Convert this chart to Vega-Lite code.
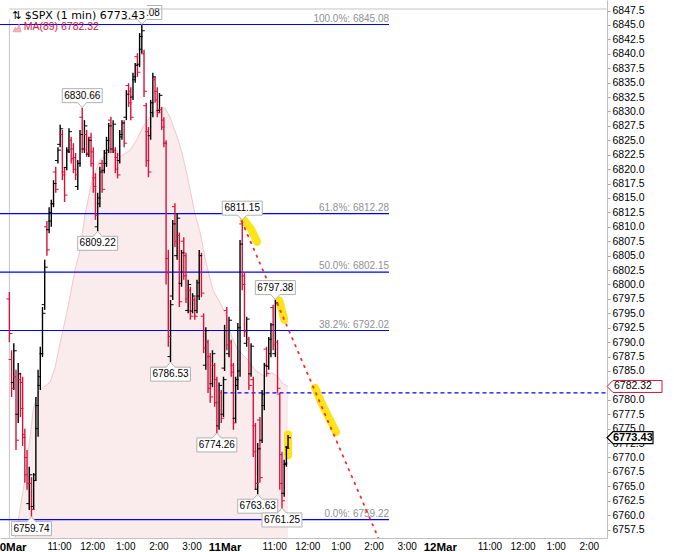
{
  "$schema": "https://vega.github.io/schema/vega-lite/v6.json",
  "width": 607,
  "height": 538,
  "autosize": {"type": "none"},
  "padding": {"left": 0, "top": 0, "right": 67, "bottom": 14},
  "background": "white",
  "config": {"view": {"stroke": null}, "font": "Liberation Sans", "axis": {"grid": false, "labelOverlap": false, "labelBound": false}},
  "title": {
    "text": "\u21c5 $SPX (1 min) 6773.43",
    "subtitle": "\u200b\u00a0\u00a0\u00a0\u00a0MA(89) 6782.32",
    "anchor": "start",
    "frame": "group",
    "orient": "top",
    "offset": -32,
    "dx": 12,
    "font": "DejaVu Sans",
    "fontSize": 11,
    "fontWeight": "normal",
    "color": "#000000",
    "subtitleFont": "Liberation Sans",
    "subtitleFontSize": 10.5,
    "subtitleColor": "#d4143c",
    "subtitlePadding": 1
  },
  "datasets": {
    "bars": [
      {"t":0,"o":6797.5,"h":6798.7,"l":6790.0,"c":6791.5},
      {"t":4,"o":6787.0,"h":6788.6,"l":6780.5,"c":6782.0},
      {"t":8,"o":6783.0,"h":6789.8,"l":6781.7,"c":6788.5},
      {"t":12,"o":6784.0,"h":6785.2,"l":6771.3,"c":6773.0},
      {"t":16,"o":6777.5,"h":6786.4,"l":6776.0,"c":6784.5},
      {"t":20,"o":6783.5,"h":6784.7,"l":6777.0,"c":6778.5},
      {"t":24,"o":6783.0,"h":6784.0,"l":6772.0,"c":6773.5},
      {"t":28,"o":6774.0,"h":6775.0,"l":6765.6,"c":6767.0},
      {"t":32,"o":6770.0,"h":6771.3,"l":6764.4,"c":6765.5},
      {"t":36,"o":6762.0,"h":6768.4,"l":6760.9,"c":6767.0},
      {"t":40,"o":6765.5,"h":6766.6,"l":6759.74,"c":6761.0},
      {"t":44,"o":6761.5,"h":6767.3,"l":6760.9,"c":6766.0},
      {"t":48,"o":6767.0,"h":6780.5,"l":6766.1,"c":6779.0},
      {"t":52,"o":6775.0,"h":6785.2,"l":6773.6,"c":6784.0},
      {"t":56,"o":6782.5,"h":6789.2,"l":6781.7,"c":6788.0},
      {"t":60,"o":6788.0,"h":6796.1,"l":6787.4,"c":6795.0},
      {"t":64,"o":6796.5,"h":6804.3,"l":6795.6,"c":6803.0},
      {"t":68,"o":6810.0,"h":6811.0,"l":6805.0,"c":6806.0},
      {"t":72,"o":6809.5,"h":6813.4,"l":6808.9,"c":6812.5},
      {"t":76,"o":6811.0,"h":6814.7,"l":6810.0,"c":6814.0},
      {"t":80,"o":6814.0,"h":6818.1,"l":6813.4,"c":6817.5},
      {"t":84,"o":6819.5,"h":6820.4,"l":6815.9,"c":6816.5},
      {"t":88,"o":6821.5,"h":6823.8,"l":6821.0,"c":6823.3},
      {"t":92,"o":6824.3,"h":6827.7,"l":6823.8,"c":6827.0},
      {"t":96,"o":6826.0,"h":6826.8,"l":6818.1,"c":6819.0},
      {"t":100,"o":6819.5,"h":6820.4,"l":6814.3,"c":6815.5},
      {"t":104,"o":6820.3,"h":6823.8,"l":6819.8,"c":6823.0},
      {"t":108,"o":6823.3,"h":6827.1,"l":6822.8,"c":6826.5},
      {"t":112,"o":6825.0,"h":6825.6,"l":6821.0,"c":6821.8},
      {"t":116,"o":6823.5,"h":6824.5,"l":6819.3,"c":6820.0},
      {"t":120,"o":6822.0,"h":6822.8,"l":6818.1,"c":6819.0},
      {"t":124,"o":6817.0,"h":6821.6,"l":6816.4,"c":6821.0},
      {"t":128,"o":6821.0,"h":6826.8,"l":6820.4,"c":6826.0},
      {"t":132,"o":6829.0,"h":6830.66,"l":6822.8,"c":6823.5},
      {"t":136,"o":6823.5,"h":6828.5,"l":6822.8,"c":6827.5},
      {"t":140,"o":6826.0,"h":6826.8,"l":6822.1,"c":6822.8},
      {"t":144,"o":6822.6,"h":6825.6,"l":6822.1,"c":6825.0},
      {"t":148,"o":6825.5,"h":6826.3,"l":6820.4,"c":6821.0},
      {"t":152,"o":6823.0,"h":6823.8,"l":6815.9,"c":6817.0},
      {"t":156,"o":6818.5,"h":6819.3,"l":6811.2,"c":6812.0},
      {"t":160,"o":6810.0,"h":6815.9,"l":6809.22,"c":6815.0},
      {"t":164,"o":6814.0,"h":6820.4,"l":6813.4,"c":6819.5},
      {"t":168,"o":6821.0,"h":6821.6,"l":6815.9,"c":6816.5},
      {"t":172,"o":6819.8,"h":6823.3,"l":6819.3,"c":6822.8},
      {"t":176,"o":6821.0,"h":6825.6,"l":6820.4,"c":6825.0},
      {"t":180,"o":6823.3,"h":6828.0,"l":6822.8,"c":6827.5},
      {"t":184,"o":6828.5,"h":6829.1,"l":6822.8,"c":6823.5},
      {"t":188,"o":6823.5,"h":6828.5,"l":6822.8,"c":6827.8},
      {"t":192,"o":6823.3,"h":6823.8,"l":6819.3,"c":6820.0},
      {"t":196,"o":6822.0,"h":6822.8,"l":6818.4,"c":6819.0},
      {"t":200,"o":6821.5,"h":6826.8,"l":6821.0,"c":6826.0},
      {"t":204,"o":6825.6,"h":6828.5,"l":6825.1,"c":6828.0},
      {"t":208,"o":6828.0,"h":6828.5,"l":6823.8,"c":6824.5},
      {"t":212,"o":6829.0,"h":6833.7,"l":6828.5,"c":6833.0},
      {"t":216,"o":6834.5,"h":6834.9,"l":6830.8,"c":6831.5},
      {"t":220,"o":6833.5,"h":6834.2,"l":6828.5,"c":6829.0},
      {"t":224,"o":6832.5,"h":6836.7,"l":6832.0,"c":6836.0},
      {"t":228,"o":6835.5,"h":6838.4,"l":6835.0,"c":6838.0},
      {"t":232,"o":6839.5,"h":6840.1,"l":6836.0,"c":6836.8},
      {"t":236,"o":6838.2,"h":6843.6,"l":6837.7,"c":6843.0},
      {"t":240,"o":6840.8,"h":6845.08,"l":6840.1,"c":6844.0},
      {"t":244,"o":6840.0,"h":6840.7,"l":6832.5,"c":6833.5},
      {"t":248,"o":6831.0,"h":6831.5,"l":6820.4,"c":6821.5},
      {"t":252,"o":6826.5,"h":6827.3,"l":6818.6,"c":6819.5},
      {"t":256,"o":6825.8,"h":6832.0,"l":6825.1,"c":6831.5},
      {"t":260,"o":6829.8,"h":6836.7,"l":6829.0,"c":6836.0},
      {"t":264,"o":6835.5,"h":6836.0,"l":6831.5,"c":6832.0},
      {"t":268,"o":6833.5,"h":6834.2,"l":6829.0,"c":6829.8},
      {"t":272,"o":6830.2,"h":6833.2,"l":6829.7,"c":6832.8},
      {"t":276,"o":6830.3,"h":6830.8,"l":6826.8,"c":6827.3},
      {"t":280,"o":6828.5,"h":6829.0,"l":6823.8,"c":6824.5},
      {"t":284,"o":6824.5,"h":6825.0,"l":6800.0,"c":6802.0},
      {"t":288,"o":6804.5,"h":6806.0,"l":6789.2,"c":6791.0},
      {"t":292,"o":6787.5,"h":6797.3,"l":6786.53,"c":6796.5},
      {"t":296,"o":6798.0,"h":6811.2,"l":6797.3,"c":6810.5},
      {"t":300,"o":6813.5,"h":6814.1,"l":6806.5,"c":6807.5},
      {"t":304,"o":6805.0,"h":6812.4,"l":6804.3,"c":6811.5},
      {"t":308,"o":6808.5,"h":6809.0,"l":6796.1,"c":6797.0},
      {"t":312,"o":6800.2,"h":6806.0,"l":6799.6,"c":6805.5},
      {"t":316,"o":6807.5,"h":6808.2,"l":6800.8,"c":6801.5},
      {"t":320,"o":6805.0,"h":6805.5,"l":6796.8,"c":6797.5},
      {"t":324,"o":6795.5,"h":6800.8,"l":6795.0,"c":6800.0},
      {"t":328,"o":6799.0,"h":6799.6,"l":6793.9,"c":6794.5},
      {"t":332,"o":6795.4,"h":6798.5,"l":6795.0,"c":6798.0},
      {"t":336,"o":6797.3,"h":6797.8,"l":6793.9,"c":6794.5},
      {"t":340,"o":6795.5,"h":6800.8,"l":6795.0,"c":6800.3},
      {"t":344,"o":6798.0,"h":6806.0,"l":6797.3,"c":6805.0},
      {"t":348,"o":6805.0,"h":6805.5,"l":6797.8,"c":6798.5},
      {"t":352,"o":6794.5,"h":6795.0,"l":6788.1,"c":6789.0},
      {"t":356,"o":6786.0,"h":6792.6,"l":6785.2,"c":6792.0},
      {"t":360,"o":6790.0,"h":6790.4,"l":6781.2,"c":6782.0},
      {"t":364,"o":6787.5,"h":6788.1,"l":6779.5,"c":6780.5},
      {"t":368,"o":6782.8,"h":6788.6,"l":6782.2,"c":6788.0},
      {"t":372,"o":6786.0,"h":6786.4,"l":6778.8,"c":6779.5},
      {"t":376,"o":6783.5,"h":6784.0,"l":6774.26,"c":6775.5},
      {"t":380,"o":6775.5,"h":6783.0,"l":6774.8,"c":6782.5},
      {"t":384,"o":6781.2,"h":6781.7,"l":6776.0,"c":6776.8},
      {"t":388,"o":6777.5,"h":6784.0,"l":6777.0,"c":6783.5},
      {"t":390,"o":6785.5,"h":6793.0,"l":6785.0,"c":6792.0},
      {"t":394,"o":6795.5,"h":6796.1,"l":6788.6,"c":6789.5},
      {"t":398,"o":6788.0,"h":6794.4,"l":6787.4,"c":6793.8},
      {"t":402,"o":6790.0,"h":6790.4,"l":6784.0,"c":6784.8},
      {"t":406,"o":6786.0,"h":6786.4,"l":6774.8,"c":6776.0},
      {"t":410,"o":6776.8,"h":6784.0,"l":6776.0,"c":6783.5},
      {"t":414,"o":6782.5,"h":6793.3,"l":6781.7,"c":6792.5},
      {"t":418,"o":6785.0,"h":6807.7,"l":6784.0,"c":6807.0},
      {"t":422,"o":6810.5,"h":6811.15,"l":6799.0,"c":6800.0},
      {"t":426,"o":6801.5,"h":6802.0,"l":6790.9,"c":6791.8},
      {"t":430,"o":6789.8,"h":6794.4,"l":6789.2,"c":6794.0},
      {"t":434,"o":6790.5,"h":6790.9,"l":6781.7,"c":6782.5},
      {"t":438,"o":6784.5,"h":6789.8,"l":6784.0,"c":6789.3},
      {"t":442,"o":6783.5,"h":6784.0,"l":6770.1,"c":6771.0},
      {"t":446,"o":6775.5,"h":6776.0,"l":6764.4,"c":6765.5},
      {"t":450,"o":6764.5,"h":6772.5,"l":6763.63,"c":6771.5},
      {"t":454,"o":6776.5,"h":6777.0,"l":6765.6,"c":6766.5},
      {"t":458,"o":6773.0,"h":6781.7,"l":6772.5,"c":6781.0},
      {"t":462,"o":6779.0,"h":6786.4,"l":6778.2,"c":6786.0},
      {"t":466,"o":6788.8,"h":6789.2,"l":6784.0,"c":6784.6},
      {"t":470,"o":6785.8,"h":6790.9,"l":6785.2,"c":6790.5},
      {"t":474,"o":6788.0,"h":6793.3,"l":6787.4,"c":6793.0},
      {"t":478,"o":6796.0,"h":6796.5,"l":6788.6,"c":6789.5},
      {"t":482,"o":6788.0,"h":6797.38,"l":6787.4,"c":6796.8},
      {"t":486,"o":6790.0,"h":6790.4,"l":6781.2,"c":6782.0},
      {"t":490,"o":6781.0,"h":6781.2,"l":6764.4,"c":6765.5},
      {"t":494,"o":6770.5,"h":6771.0,"l":6761.25,"c":6762.5},
      {"t":498,"o":6763.8,"h":6769.6,"l":6763.2,"c":6769.0},
      {"t":502,"o":6768.8,"h":6772.0,"l":6768.4,"c":6771.6},
      {"t":505,"o":6771.8,"h":6773.9,"l":6771.6,"c":6773.43}
    ],
    "ma": [
      {"t":10,"ma":6755.7},{"t":28,"ma":6766.1},{"t":37,"ma":6773.0},{"t":43,"ma":6778.2},
      {"t":52,"ma":6781.2},{"t":62,"ma":6782.2},{"t":74,"ma":6783.1},{"t":83,"ma":6785.7},
      {"t":92,"ma":6789.9},{"t":104,"ma":6795.1},{"t":119,"ma":6802.5},{"t":128,"ma":6806.0},
      {"t":137,"ma":6812.1},{"t":150,"ma":6818.1},{"t":164,"ma":6821.6},{"t":182,"ma":6822.8},
      {"t":195,"ma":6823.3},{"t":200,"ma":6822.1},{"t":219,"ma":6823.3},{"t":231,"ma":6825.1},
      {"t":242,"ma":6827.3},{"t":251,"ma":6828.5},{"t":260,"ma":6829.7},{"t":273,"ma":6830.6},
      {"t":282,"ma":6830.6},{"t":291,"ma":6829.0},{"t":304,"ma":6825.6},{"t":313,"ma":6822.8},
      {"t":324,"ma":6818.1},{"t":336,"ma":6812.4},{"t":346,"ma":6808.9},{"t":356,"ma":6803.9},
      {"t":369,"ma":6799.0},{"t":382,"ma":6796.8},{"t":391,"ma":6795.1},{"t":403,"ma":6790.9},
      {"t":414,"ma":6788.7},{"t":423,"ma":6787.8},{"t":432,"ma":6786.9},{"t":445,"ma":6785.2},
      {"t":463,"ma":6784.0},{"t":476,"ma":6784.7},{"t":487,"ma":6784.0},{"t":494,"ma":6782.9},
      {"t":505,"ma":6782.32}
    ],
    "fib": [
      {"label":"100.0%: 6845.08","p":6845.08},
      {"label":"61.8%: 6812.28","p":6812.28},
      {"label":"50.0%: 6802.15","p":6802.15},
      {"label":"38.2%: 6792.02","p":6792.02},
      {"label":"0.0%: 6759.22","p":6759.22}
    ],
    "hi": [
      {"t":132,"p":6830.66},{"t":240,"p":6845.08},{"t":422,"p":6811.15},{"t":482,"p":6797.38}
    ],
    "lo": [
      {"t":40,"p":6759.74},{"t":160,"p":6809.22},{"t":292,"p":6786.53},
      {"t":376,"p":6774.26},{"t":450,"p":6763.63},{"t":494,"p":6761.25}
    ],
    "hl": [
      {"id":1,"k":0,"t":425,"p":6811.2},{"id":1,"k":1,"t":438,"p":6809.6},{"id":1,"k":2,"t":449,"p":6807.4},
      {"id":2,"k":0,"t":489,"p":6797.2},{"id":2,"k":1,"t":494,"p":6795.5},{"id":2,"k":2,"t":498,"p":6793.9},
      {"id":3,"k":0,"t":554,"p":6782.1},{"id":3,"k":1,"t":565,"p":6779.6},{"id":3,"k":2,"t":579,"p":6776.9},{"id":3,"k":3,"t":592,"p":6774.4},
      {"id":4,"k":0,"t":505,"p":6774.0},{"id":4,"k":1,"t":505,"p":6770.4}
    ],
    "trend": [{"t":421,"p":6811.0},{"t":681,"p":6753.3}]
  },
  "layer": [
    {
      "data": {"name": "ma"},
      "mark": {"type": "area", "color": "#f8e3e4", "clip": true, "line": {"color": "#f0c8cc", "strokeWidth": 1}},
      "encoding": {
        "x": {
          "field": "t", "type": "quantitative", "title": null,
          "scale": {"domain": [-17, 1083], "nice": false, "zero": false},
          "axis": {
            "orient": "bottom",
            "values": [0,90,150,210,270,330,390,480,540,600,660,720,780,870,930,990,1050],
            "tickCount": 100,
            "labelExpr": "datum.value == 0 ? '10Mar' : datum.value == 390 ? '11Mar' : datum.value == 780 ? '12Mar' : ['11:00','12:00','1:00','2:00','3:00'][(datum.value % 390 - 90) / 60]",
            "labelFontWeight": {"condition": {"test": "datum.value % 390 == 0", "value": "bold"}, "value": "normal"},
            "labelFontSize": {"condition": {"test": "datum.value % 390 == 0", "value": 11.5}, "value": 10},
            "labelColor": "#000000",
            "labelPadding": 3,
            "labelFlush": false,
            "labelOverlap": false,
            "labelBound": false,
            "ticks": false,
            "domainColor": "#c0c0c0"
          }
        },
        "y": {
          "field": "ma", "type": "quantitative", "title": null,
          "scale": {"domain": [6756.04, 6849.33], "nice": false, "zero": false},
          "axis": {
            "orient": "right",
            "values": [6757.5,6760,6762.5,6765,6767.5,6770,6772.5,6775,6777.5,6780,6782.5,6785,6787.5,6790,6792.5,6795,6797.5,6800,6802.5,6805,6807.5,6810,6812.5,6815,6817.5,6820,6822.5,6825,6827.5,6830,6832.5,6835,6837.5,6840,6842.5,6845,6847.5],
            "tickCount": 100,
            "format": ".1f",
            "labelFontSize": 10.5,
            "labelColor": "#000000",
            "labelPadding": 2,
            "tickSize": 3,
            "tickColor": "#a0a0a0",
            "domainColor": "#c0c0c0",
            "labelOverlap": false,
            "labelBound": false,
            "labelFlush": false
          }
        }
      }
    },
    {
      "data": {"values": [{}]},
      "mark": {"type": "rule", "color": "#c4c4c4", "strokeWidth": 1},
      "encoding": {
        "x": {"datum": 0},
        "y": {"datum": 6847.77},
        "y2": {"datum": 6756.04}
      }
    },
    {
      "data": {"name": "fib"},
      "mark": {"type": "rule", "color": "#0000ff", "strokeWidth": 1.2},
      "encoding": {
        "x": {"datum": -17},
        "x2": {"datum": 688},
        "y": {"field": "p", "type": "quantitative", "title": null}
      }
    },
    {
      "data": {"name": "fib"},
      "mark": {"type": "text", "align": "right", "baseline": "bottom", "dy": -1, "color": "#909090", "fontSize": 10},
      "encoding": {
        "x": {"datum": 688},
        "y": {"field": "p", "type": "quantitative", "title": null},
        "text": {"field": "label"}
      }
    },
    {
      "data": {"values": [{}]},
      "mark": {"type": "rule", "color": "#0000ff", "strokeWidth": 1.2, "strokeDash": [4, 3]},
      "encoding": {
        "x": {"datum": 388},
        "x2": {"datum": 1083},
        "y": {"datum": 6781.2}
      }
    },
    {
      "data": {"name": "hl"},
      "mark": {"type": "line", "color": "#ffe000", "strokeWidth": 8, "strokeCap": "round", "strokeJoin": "round", "opacity": 0.9, "clip": true},
      "encoding": {
        "x": {"field": "t", "type": "quantitative", "title": null},
        "y": {"field": "p", "type": "quantitative", "title": null},
        "detail": {"field": "id"},
        "order": {"field": "k"}
      }
    },
    {
      "data": {"name": "bars"},
      "mark": {"type": "rule", "strokeWidth": 1.4, "clip": true},
      "encoding": {
        "x": {"field": "t", "type": "quantitative", "title": null},
        "y": {"field": "h", "type": "quantitative", "title": null},
        "y2": {"field": "l"},
        "color": {"condition": {"test": "datum.c < datum.o", "value": "#d4143c"}, "value": "#000000"}
      }
    },
    {
      "data": {"name": "bars"},
      "mark": {"type": "tick", "orient": "horizontal", "size": 3, "thickness": 1, "xOffset": -1.5, "opacity": 1, "clip": true},
      "encoding": {
        "x": {"field": "t", "type": "quantitative", "title": null},
        "y": {"field": "o", "type": "quantitative", "title": null},
        "color": {"condition": {"test": "datum.c < datum.o", "value": "#d4143c"}, "value": "#000000"}
      }
    },
    {
      "data": {"name": "bars"},
      "mark": {"type": "tick", "orient": "horizontal", "size": 3, "thickness": 1, "xOffset": 1.5, "opacity": 1, "clip": true},
      "encoding": {
        "x": {"field": "t", "type": "quantitative", "title": null},
        "y": {"field": "c", "type": "quantitative", "title": null},
        "color": {"condition": {"test": "datum.c < datum.o", "value": "#d4143c"}, "value": "#000000"}
      }
    },
    {
      "data": {"name": "trend"},
      "mark": {"type": "line", "color": "#ff2a2a", "strokeWidth": 1.8, "strokeDash": [1.5, 6], "strokeCap": "round", "clip": true},
      "encoding": {
        "x": {"field": "t", "type": "quantitative", "title": null},
        "y": {"field": "p", "type": "quantitative", "title": null}
      }
    },
    {
      "data": {"name": "hi"},
      "mark": {"type": "point", "shape": "M-1,-0.95L1,-0.95L1,-0.25L0.22,-0.25L0,0L-0.22,-0.25L-1,-0.25Z", "size": 1600, "filled": true, "fill": "#ffffff", "stroke": "#b0b0b0", "strokeWidth": 1, "opacity": 1},
      "encoding": {
        "x": {"field": "t", "type": "quantitative", "title": null},
        "y": {"field": "p", "type": "quantitative", "title": null}
      }
    },
    {
      "data": {"name": "hi"},
      "mark": {"type": "text", "dy": -12, "baseline": "middle", "fontSize": 10, "color": "#000000"},
      "encoding": {
        "x": {"field": "t", "type": "quantitative", "title": null},
        "y": {"field": "p", "type": "quantitative", "title": null},
        "text": {"field": "p", "format": ".2f"}
      }
    },
    {
      "data": {"name": "lo"},
      "mark": {"type": "point", "shape": "M-1,0.95L1,0.95L1,0.25L0.22,0.25L0,0L-0.22,0.25L-1,0.25Z", "size": 1600, "filled": true, "fill": "#ffffff", "stroke": "#b0b0b0", "strokeWidth": 1, "opacity": 1},
      "encoding": {
        "x": {"field": "t", "type": "quantitative", "title": null},
        "y": {"field": "p", "type": "quantitative", "title": null}
      }
    },
    {
      "data": {"name": "lo"},
      "mark": {"type": "text", "dy": 12, "baseline": "middle", "fontSize": 10, "color": "#000000"},
      "encoding": {
        "x": {"field": "t", "type": "quantitative", "title": null},
        "y": {"field": "p", "type": "quantitative", "title": null},
        "text": {"field": "p", "format": ".2f"}
      }
    },
    {
      "data": {"values": [{}]},
      "mark": {"type": "rect", "color": "#ffffff"},
      "encoding": {
        "x": {"datum": -17},
        "x2": {"datum": 249},
        "y": {"datum": 6849.33},
        "y2": {"datum": 6846.0}
      }
    },
    {
      "data": {"values": [{}]},
      "mark": {"type": "rule", "color": "#c4c4c4", "strokeWidth": 1},
      "encoding": {
        "x": {"datum": 0},
        "x2": {"datum": 1083},
        "y": {"datum": 6847.77}
      }
    },
    {
      "data": {"values": [{}]},
      "mark": {"type": "point", "shape": "M-1,1L-0.45,-0.2L0,0.35L0.5,-1L1,1Z", "size": 64, "filled": true, "fill": "#f2b4bc", "stroke": "#e07f8f", "strokeWidth": 0.5, "opacity": 1},
      "encoding": {
        "x": {"datum": 14},
        "y": {"datum": 6844.5}
      }
    },
    {
      "data": {"values": [{"p": 6782.32}]},
      "mark": {"type": "point", "shape": "M0,0L0.3,-0.3L2.75,-0.3L2.75,0.3L0.3,0.3Z", "size": 1600, "filled": true, "fill": "#ffffff", "stroke": "#d4143c", "strokeWidth": 1, "opacity": 1, "clip": false},
      "encoding": {
        "x": {"datum": 1083},
        "y": {"field": "p", "type": "quantitative", "title": null}
      }
    },
    {
      "data": {"values": [{"p": 6782.32}]},
      "mark": {"type": "text", "align": "left", "baseline": "middle", "dx": 7, "fontSize": 10.5, "color": "#000000"},
      "encoding": {
        "x": {"datum": 1083},
        "y": {"field": "p", "type": "quantitative", "title": null},
        "text": {"field": "p", "format": ".2f"}
      }
    },
    {
      "data": {"values": [{"p": 6773.43}]},
      "mark": {"type": "point", "shape": "M0,0L0.3,-0.3L2.3,-0.3L2.3,0.3L0.3,0.3Z", "size": 1600, "filled": true, "fill": "#ffffff", "stroke": "#000000", "strokeWidth": 1.2, "opacity": 1, "clip": false},
      "encoding": {
        "x": {"datum": 1083},
        "y": {"field": "p", "type": "quantitative", "title": null}
      }
    },
    {
      "data": {"values": [{"p": 6773.43}]},
      "mark": {"type": "text", "align": "left", "baseline": "middle", "dx": 6, "fontSize": 11, "fontWeight": "bold", "color": "#000000"},
      "encoding": {
        "x": {"datum": 1083},
        "y": {"field": "p", "type": "quantitative", "title": null},
        "text": {"field": "p", "format": ".2f"}
      }
    }
  ]
}
